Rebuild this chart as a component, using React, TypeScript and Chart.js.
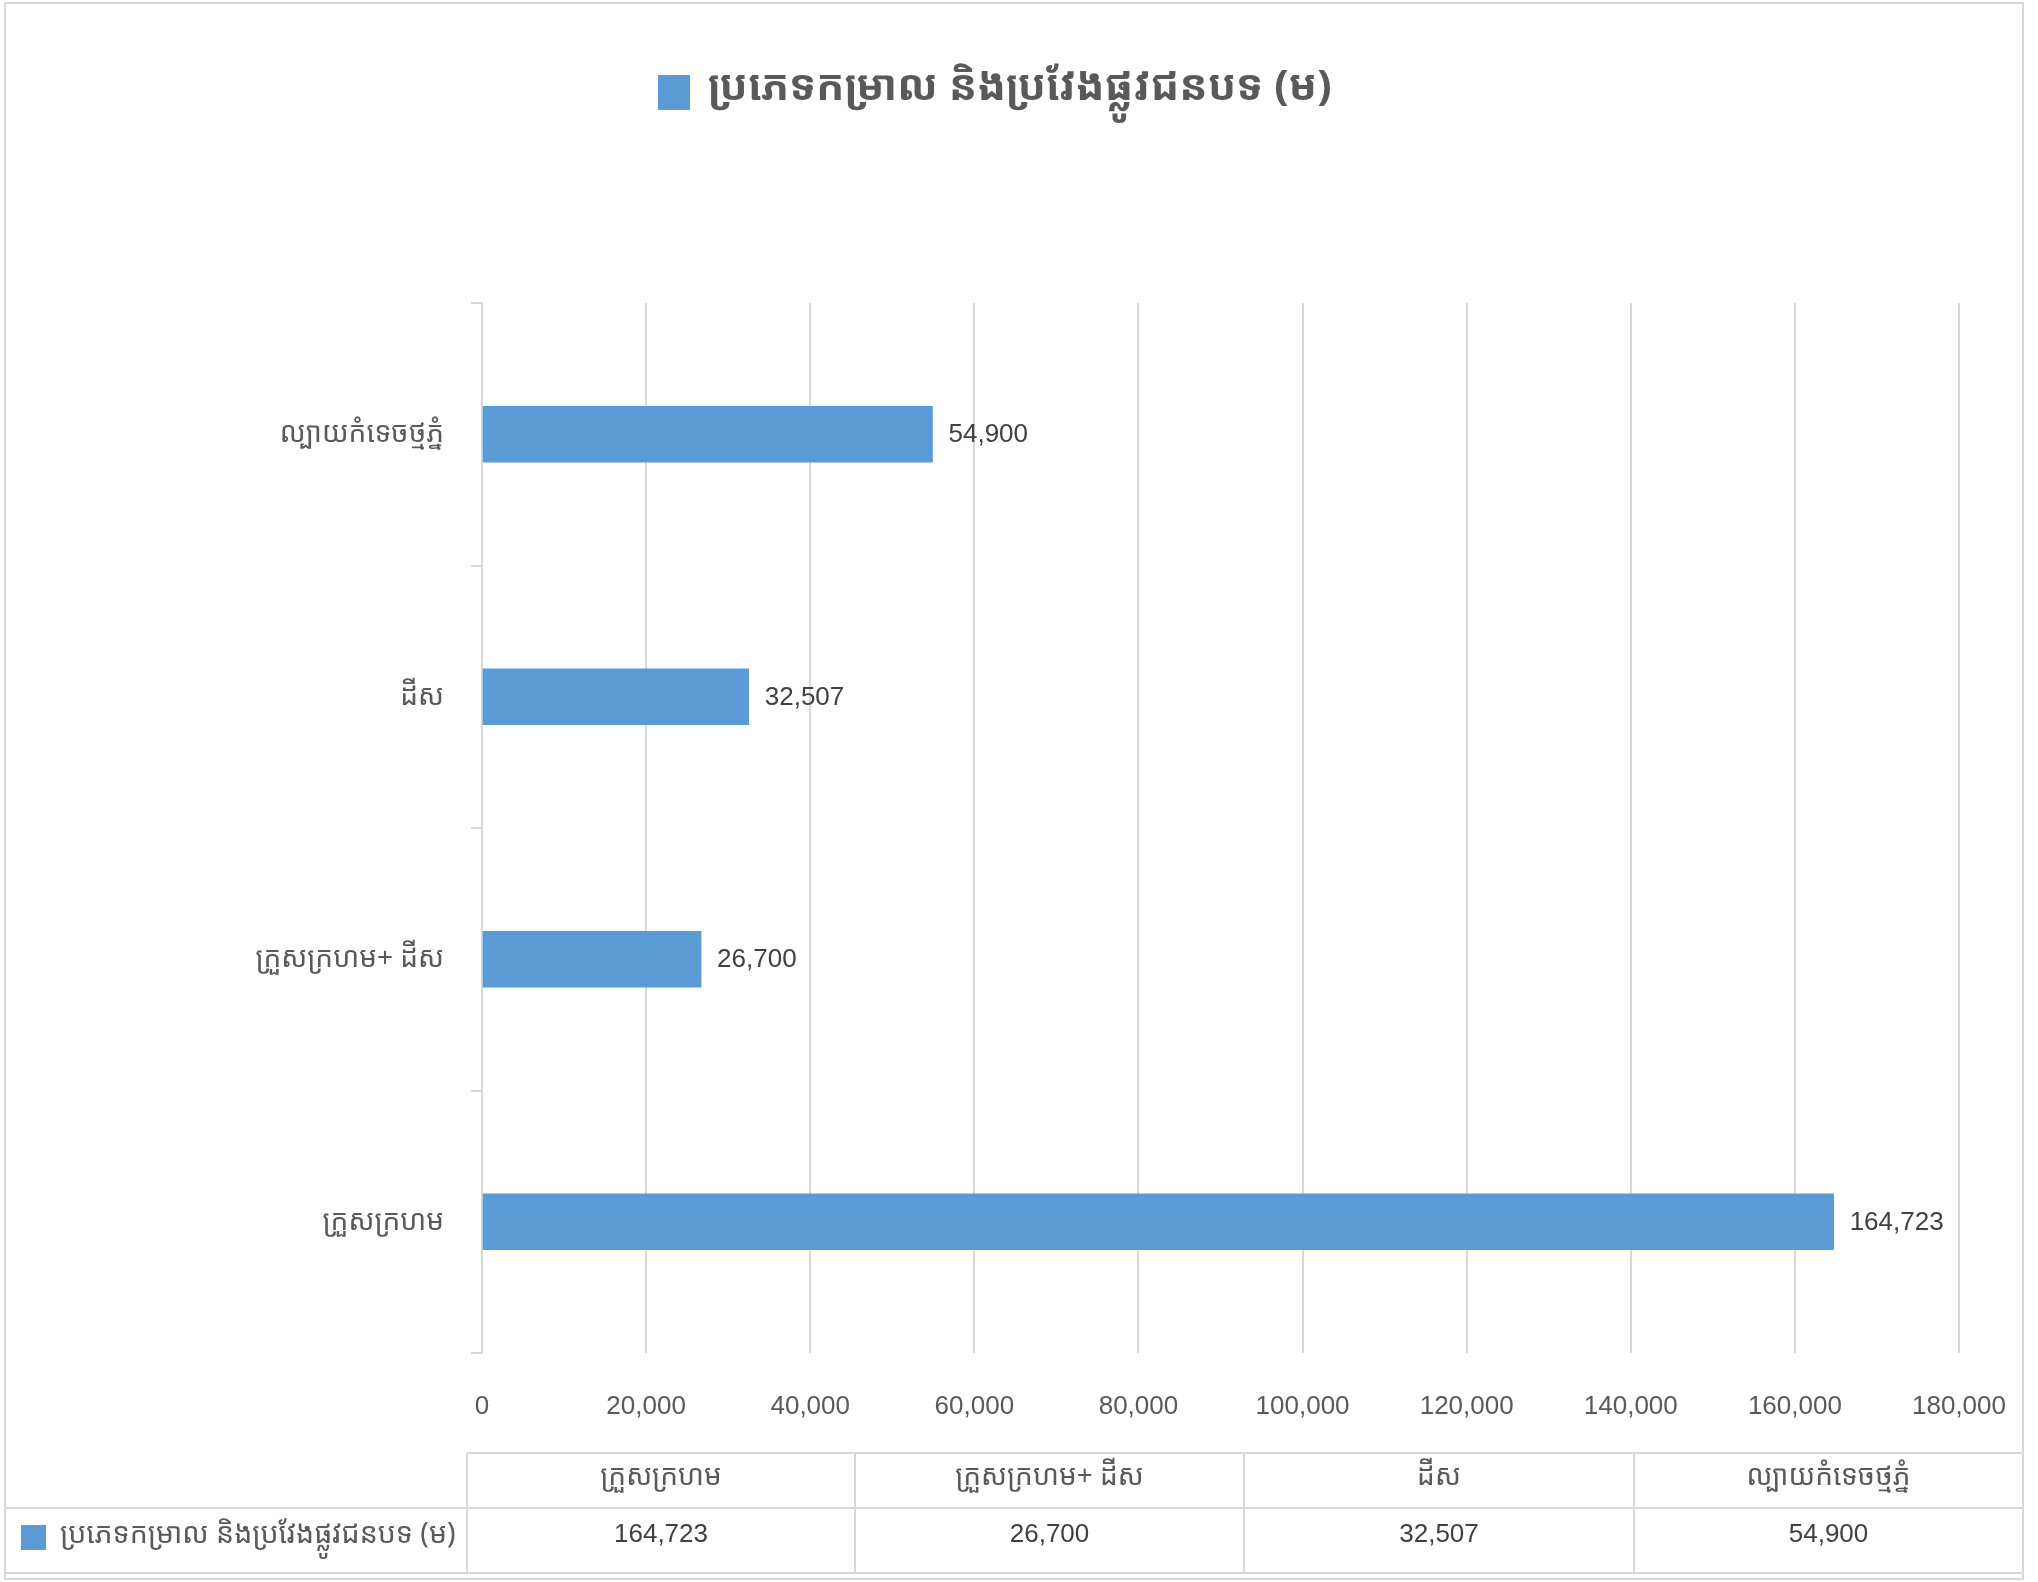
import React, { useEffect, useRef } from 'react';
import { Chart, registerables } from 'chart.js';

Chart.register(...registerables);

const seriesLabel = 'ប្រភេទកម្រាល និងប្រវែងផ្លូវជនបទ (ម)';
const categories = ['ក្រួសក្រហម', 'ក្រួសក្រហម+ ដីស', 'ដីស', 'ល្បាយកំទេចថ្មភ្នំ'];
const values = [164723, 26700, 32507, 54900];
const xMin = 0;
const xMax = 180000;
const xStep = 20000;

const W = 2038;
const H = 1582;
const KH = "'Noto Sans Khmer', 'Khmer OS Siemreap', 'Liberation Sans', sans-serif";
const NUM = "'Liberation Sans', Arial, sans-serif";
const BAR = '#5B9BD5';
const GRID = '#d9d9d9';
const TEXT = '#595959';
const fmt = (v: number) => Number(v).toLocaleString('en-US');

const decorPlugin = {
  id: 'decor',
  afterDraw(chart: any) {
    const ctx = chart.ctx as CanvasRenderingContext2D;
    ctx.save();
    // outer border
    ctx.strokeStyle = GRID;
    ctx.lineWidth = 2;
    ctx.strokeRect(5, 3, 2018, 1576);

    // title / legend at top
    ctx.fillStyle = BAR;
    ctx.fillRect(658, 75, 32, 35);
    ctx.fillStyle = TEXT;
    ctx.font = `bold 42px ${KH}`;
    ctx.textAlign = 'left';
    ctx.textBaseline = 'middle';
    ctx.fillText(seriesLabel, 708, 88);

    // data labels
    const meta = chart.getDatasetMeta(0);
    ctx.fillStyle = '#404040';
    ctx.font = `26px ${NUM}`;
    ctx.textAlign = 'left';
    ctx.textBaseline = 'middle';
    meta.data.forEach((bar: any, i: number) => {
      ctx.fillText(fmt(values[i]), bar.x + 16, bar.y + 1);
    });

    // data table
    const colEdges = [467, 855, 1244, 1634, 2023];
    const yTop = 1453, yMid = 1508, yBot = 1573;
    ctx.strokeStyle = GRID;
    ctx.lineWidth = 2;
    ctx.beginPath();
    ctx.moveTo(colEdges[0], yTop); ctx.lineTo(2023, yTop);
    ctx.moveTo(5, yMid); ctx.lineTo(2023, yMid);
    ctx.moveTo(5, yBot); ctx.lineTo(2023, yBot);
    colEdges.forEach((x) => { ctx.moveTo(x, yTop); ctx.lineTo(x, yBot); });
    ctx.stroke();

    ctx.textAlign = 'center';
    ctx.textBaseline = 'middle';
    categories.forEach((c, i) => {
      const cx = (colEdges[i] + colEdges[i + 1]) / 2;
      ctx.font = `28px ${KH}`;
      ctx.fillStyle = TEXT;
      ctx.fillText(c, cx, 1477);
      ctx.font = `26px ${NUM}`;
      ctx.fillStyle = '#404040';
      ctx.fillText(fmt(values[i]), cx, 1535);
    });
    // legend key cell
    ctx.fillStyle = BAR;
    ctx.fillRect(21, 1525, 25, 25);
    ctx.fillStyle = TEXT;
    ctx.font = `28.5px ${KH}`;
    ctx.textAlign = 'left';
    ctx.fillText(seriesLabel, 60, 1535);
    ctx.restore();
  },
};

export default function App() {
  const ref = useRef<HTMLCanvasElement | null>(null);
  useEffect(() => {
    document.body.style.margin = '0';
    const canvas = ref.current!;
    const chart = new Chart(canvas, {
      type: 'bar',
      data: {
        labels: categories,
        datasets: [
          {
            label: seriesLabel,
            data: values,
            backgroundColor: BAR,
            borderWidth: 0,
            barThickness: 56,
          },
        ],
      },
      options: {
        indexAxis: 'y',
        responsive: false,
        animation: false,
        devicePixelRatio: 1,
        layout: { padding: { left: 0, top: 303, right: W - 1959, bottom: 0 } },
        plugins: { legend: { display: false }, tooltip: { enabled: false }, title: { display: false } },
        scales: {
          y: {
            type: 'category',
            reverse: true,
            grid: { drawOnChartArea: false, drawTicks: true, tickLength: 11, color: GRID, lineWidth: 2, offset: true },
            border: { display: true, color: GRID, width: 2 },
            ticks: { padding: 27, color: TEXT, font: { family: KH, size: 28 } },
            afterFit: (s: any) => { s.width = 482; },
          },
          x: {
            min: xMin,
            max: xMax,
            grid: { color: GRID, lineWidth: 2, drawTicks: true, tickLength: 33, tickColor: 'rgba(0,0,0,0)' },
            border: { display: false },
            ticks: {
              stepSize: xStep,
              padding: 5,
              color: TEXT,
              font: { family: NUM, size: 26 },
              callback: (v: any) => fmt(Number(v)),
            },
            afterFit: (s: any) => { s.height = H - 1353; },
          },
        },
      },
      plugins: [decorPlugin],
    });
    return () => chart.destroy();
  }, []);
  return <canvas ref={ref} width={W} height={H} style={{ display: 'block' }} />;
}
